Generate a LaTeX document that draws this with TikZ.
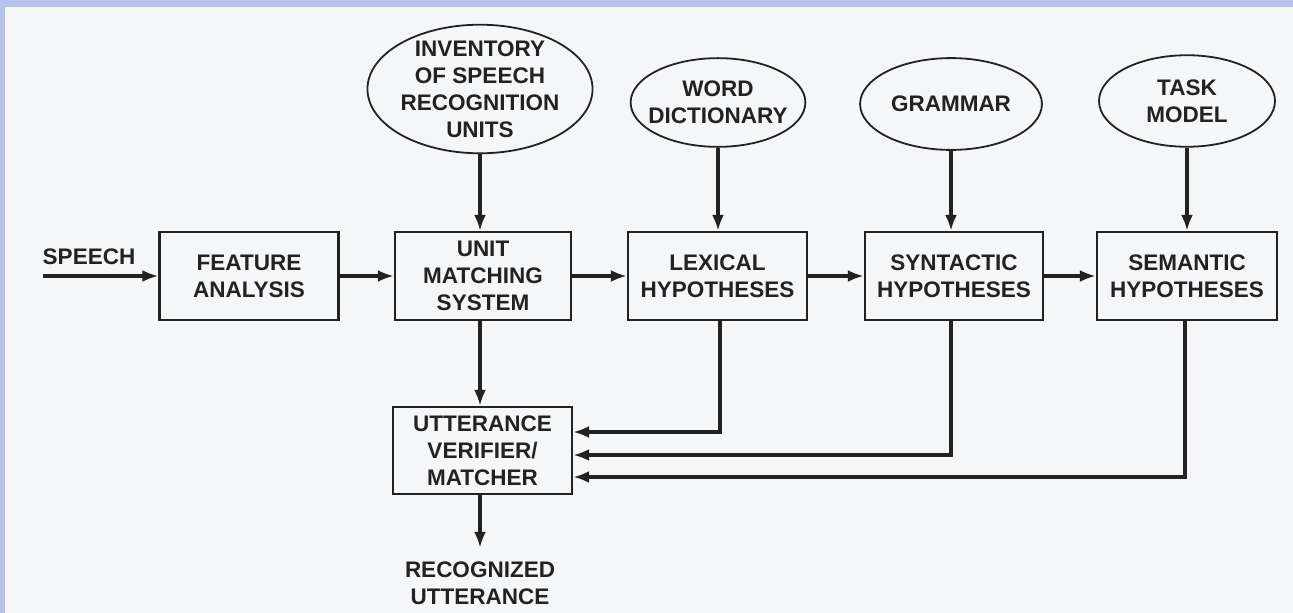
\documentclass[tikz,border=0pt]{standalone}
\usepackage{fontspec}
\setmainfont{Liberation Sans}
\usetikzlibrary{shapes.geometric,arrows.meta,calc}
\definecolor{frameblue}{HTML}{B3C3EE}
\definecolor{paper}{HTML}{F5F6F8}
\definecolor{ink}{HTML}{222222}
\tikzset{
  lbl/.style={font=\bfseries\fontsize{22.5}{27}\selectfont, text=ink, align=center, inner sep=0pt},
  stagebox/.style={lbl, draw=ink, line width=2.3pt, minimum width=179pt, minimum height=88pt},
  oval/.style={lbl, ellipse, draw=ink, line width=1.8pt},
  arr/.style={draw=ink, line width=3.2pt, -{Latex[length=16pt,width=12pt]}}
}
\begin{document}
\begin{tikzpicture}[x=1pt,y=-1pt]
\fill[frameblue] (0,0) rectangle (1293,613);
\fill[paper] (5,7) rectangle (1293,613);
\useasboundingbox (0,0) rectangle (1293,613);

% knowledge sources
\node[oval, inner xsep=0.2pt, inner ysep=-3.0pt] (inv) at (480,89) {INVENTORY\\OF SPEECH\\RECOGNITION\\UNITS};
\node[oval, inner xsep=-7.8pt, inner ysep=9.9pt] (word) at (718,102.5) {WORD\\DICTIONARY};
\node[oval, inner xsep=4.3pt, inner ysep=24.5pt] (gram) at (951,104) {GRAMMAR};
\node[oval, inner xsep=21.6pt, inner ysep=10.9pt] (task) at (1187,101) {TASK\\MODEL};

% processing chain
\node[lbl] (speech) at (89,257) {SPEECH};
\coordinate (sp) at (43,276);
\node[stagebox] (feat) at (249,276) {FEATURE\\ANALYSIS};
\node[stagebox, minimum width=176pt] (unit) at (483,276) {UNIT\\MATCHING\\SYSTEM};
\node[stagebox] (lex) at (717.5,276) {LEXICAL\\HYPOTHESES};
\node[stagebox, minimum width=178pt] (syn) at (954,276) {SYNTACTIC\\HYPOTHESES};
\node[stagebox, minimum width=180pt] (sem) at (1187,276) {SEMANTIC\\HYPOTHESES};
\node[stagebox, minimum height=87pt] (utt) at (482.5,450.5) {UTTERANCE\\VERIFIER/\\MATCHER};
\node[lbl] (rec) at (480,583.5) {RECOGNIZED\\UTTERANCE};

% connectors
\draw[arr] (sp) -- (feat.west);
\draw[arr] (feat.east) -- (unit.west);
\draw[arr] (unit.east) -- (lex.west);
\draw[arr] (lex.east) -- (syn.west);
\draw[arr] (syn.east) -- (sem.west);

\draw[arr] (inv.south) -- (inv.south |- unit.north);
\draw[arr] (word.south) -- (word.south |- lex.north);
\draw[arr] (gram.south) -- (gram.south |- syn.north);
\draw[arr] (task.south) -- (task.south |- sem.north);

\draw[arr] ([xshift=-3pt]unit.south) -- ([xshift=-2.5pt]utt.north);
\draw[arr] ([xshift=2.5pt]lex.south) |- ([yshift=18.5pt]utt.east);
\draw[arr] ([xshift=-3pt]syn.south) |- ([yshift=-4.5pt]utt.east);
\draw[arr] ([xshift=-2pt]sem.south) |- ([yshift=-26.5pt]utt.east);
\draw[arr] ([xshift=-2.5pt]utt.south) -- ([yshift=14pt]rec.north);
\end{tikzpicture}
\end{document}
